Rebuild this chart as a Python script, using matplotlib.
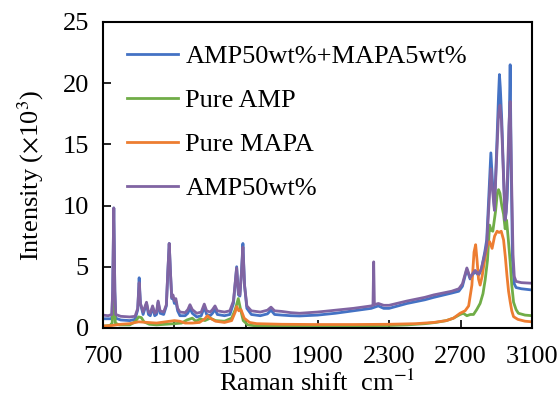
import matplotlib
matplotlib.use("Agg")
import matplotlib.pyplot as plt

plt.rcParams['font.family'] = ['Liberation Serif', 'DejaVu Serif']
plt.rcParams['mathtext.fontset'] = 'stix'

# AMP50wt%+MAPA5wt%
blue_x = [700, 750, 755, 761, 767, 772, 800, 850, 880, 895, 903, 910, 925, 944, 955, 965, 978, 990,
          1000, 1009, 1020, 1040, 1055, 1063, 1071, 1078, 1085, 1092, 1100, 1108, 1118, 1131, 1160,
          1175, 1187, 1200, 1225, 1250, 1267, 1280, 1300, 1313, 1327, 1340, 1380, 1410, 1430, 1448,
          1458, 1466, 1475, 1483, 1492, 1505, 1530, 1580, 1620, 1640, 1660, 1700, 1750, 1800, 1900,
          2000, 2100, 2200, 2240, 2270, 2300, 2400, 2500, 2550, 2650, 2690, 2710, 2735, 2753, 2770,
          2781, 2800, 2815, 2835, 2846, 2860, 2869, 2880, 2889, 2900, 2912, 2917, 2922, 2930, 2940,
          2950, 2960, 2970, 2977, 2983, 2990, 3000, 3010, 3040, 3100]
blue_y = [0.75, 0.75, 3.0, 9.8, 3.0, 0.8, 0.65, 0.6, 0.7, 1.5, 4.1, 2.0, 1.1, 2.0, 1.1, 1.0, 1.7, 1.0,
          1.1, 2.1, 1.2, 1.1, 1.8, 4.5, 6.9, 4.5, 2.4, 2.5, 2.0, 2.2, 1.4, 1.0, 1.0,
          1.2, 1.6, 1.2, 0.9, 1.0, 1.7, 1.1, 1.0, 1.2, 1.5, 1.1, 1.0, 1.1, 2.0, 5.0,
          2.7, 2.6, 4.6, 6.9, 3.5, 1.6, 1.1, 1.0, 1.15, 1.45, 1.1, 1.05, 1.0, 0.98, 1.05,
          1.2, 1.4, 1.6, 1.8, 1.6, 1.6, 2.0, 2.3, 2.5, 2.85, 3.0, 3.4, 4.8, 4.0, 4.4,
          4.6, 4.3, 4.7, 6.2, 7.2, 11.5, 14.3, 11.5, 9.8, 14.0, 19.0, 20.7, 19.6, 17.0, 12.5,
          8.8, 10.5, 15.0, 21.5, 13.0, 5.5, 3.6, 3.3, 3.2, 3.1]

# Pure AMP
green_x = [700, 740, 752, 758, 761, 764, 770, 790, 850, 880, 900, 915, 930, 960, 1000, 1050, 1100,
           1140, 1170, 1200, 1220, 1245, 1270, 1300, 1330, 1380, 1420, 1440, 1457, 1470, 1485, 1510,
           1550, 1700, 1900, 2100, 2300, 2400, 2500, 2560, 2620, 2660, 2697, 2715, 2735, 2755, 2772,
           2790, 2809, 2825, 2837, 2850, 2862, 2870, 2880, 2895, 2905, 2912, 2920, 2930, 2940, 2949,
           2957, 2965, 2977, 2986, 2996, 3010, 3023, 3060, 3100]
green_y = [0.15, 0.2, 0.4, 2.0, 3.6, 2.0, 0.4, 0.25, 0.25, 0.5, 0.9, 0.85, 0.5, 0.3, 0.25, 0.3, 0.35,
           0.4, 0.65, 0.8, 0.55, 0.75, 0.6, 0.8, 0.6, 0.55, 0.8, 1.5, 2.4, 1.5, 0.6, 0.25,
           0.18, 0.15, 0.15, 0.18, 0.2, 0.25, 0.35, 0.45, 0.6, 0.8, 1.1, 1.2, 1.0, 1.1, 1.1,
           1.5, 2.0, 2.8, 3.9, 5.5, 8.4, 8.0, 7.9, 9.5, 11.0, 11.3, 11.0, 10.0, 9.3, 8.1,
           8.8, 7.5, 5.4, 3.5, 2.1, 1.5, 1.2, 1.05, 1.0]

# Pure MAPA
orange_x = [700, 750, 800, 850, 900, 950, 1000, 1050, 1100, 1130, 1160, 1200, 1240, 1270, 1285, 1300,
            1330, 1380, 1420, 1440, 1448, 1460, 1472, 1490, 1520, 1560, 1700, 1900, 2100, 2300, 2450,
            2550, 2620, 2660, 2697, 2725, 2745, 2763, 2775, 2784, 2792, 2800, 2809, 2820, 2837, 2850,
            2862, 2876, 2890, 2904, 2915, 2927, 2940, 2950, 2959, 2968, 2977, 2986, 2996, 3020, 3060,
            3100]
orange_y = [0.15, 0.2, 0.3, 0.35, 0.5, 0.45, 0.4, 0.5, 0.6, 0.55, 0.4, 0.4, 0.45, 0.75, 1.0, 0.8,
            0.55, 0.45, 0.6, 1.3, 1.75, 1.4, 1.5, 0.8, 0.45, 0.35, 0.3, 0.28, 0.28, 0.3, 0.35,
            0.45, 0.6, 0.8, 1.2, 1.4, 1.8, 3.5, 6.2, 6.8, 5.5, 4.0, 3.5, 4.2, 5.8, 6.8,
            7.05, 6.5, 7.5, 7.9, 7.8, 7.9, 7.2, 5.8, 4.3, 3.0, 2.15, 1.4, 0.92, 0.7, 0.55,
            0.5]

# AMP50wt%
purple_x = [700, 730, 750, 755, 761, 767, 772, 800, 850, 880, 895, 903, 910, 925, 944, 955, 965, 978,
            990, 1000, 1009, 1020, 1040, 1055, 1063, 1071, 1078, 1085, 1092, 1100, 1108, 1118, 1131,
            1160, 1175, 1187, 1200, 1225, 1250, 1267, 1280, 1300, 1313, 1327, 1340, 1380, 1410, 1430,
            1448, 1458, 1466, 1475, 1483, 1492, 1505, 1530, 1580, 1620, 1640, 1660, 1700, 1750, 1800,
            1900, 2000, 2100, 2200, 2210, 2214, 2218, 2240, 2270, 2300, 2400, 2500, 2550, 2650, 2690,
            2710, 2735, 2753, 2770, 2781, 2800, 2815, 2835, 2846, 2860, 2869, 2880, 2889, 2900, 2912,
            2920, 2928, 2937, 2948, 2955, 2963, 2970, 2977, 2985, 2993, 3000, 3010, 3040, 3100]
purple_y = [1.05, 1.0, 1.1, 3.0, 9.8, 3.0, 1.1, 0.95, 0.9, 0.95, 1.6, 3.7, 2.0, 1.3, 2.1, 1.3, 1.2, 1.8,
            1.2, 1.3, 2.2, 1.4, 1.3, 1.9, 4.5, 6.9, 4.5, 2.5, 2.7, 2.2, 2.4, 1.6, 1.3,
            1.25, 1.5, 1.9, 1.5, 1.2, 1.3, 1.95, 1.4, 1.3, 1.5, 1.8, 1.4, 1.3, 1.4, 2.2,
            4.9, 2.8, 2.7, 4.5, 6.6, 3.5, 1.8, 1.4, 1.3, 1.45, 1.7, 1.4, 1.35, 1.25, 1.2,
            1.3, 1.45, 1.6, 1.8, 1.85, 5.4, 1.9, 2.0, 1.85, 1.85, 2.2, 2.5, 2.7, 3.0, 3.2,
            3.6, 4.9, 4.1, 4.5, 4.7, 4.4, 4.8, 6.0, 6.8, 10.5, 13.0, 11.0, 9.6, 13.5, 17.5,
            18.2, 17.0, 13.5, 8.8, 9.5, 13.0, 16.5, 18.5, 12.0, 6.0, 4.2, 3.8, 3.7, 3.65]

labels = ['AMP50wt%+MAPA5wt%', 'Pure AMP', 'Pure MAPA', 'AMP50wt%']
colors = ['#4472C4', '#70AD47', '#ED7D31', '#8064A2']
x_ticks = [700, 1100, 1500, 1900, 2300, 2700, 3100]
y_ticks = [0, 5, 10, 15, 20, 25]

fig = plt.figure(figsize=(5.59, 3.98), dpi=100)
ax = fig.add_axes([0.184, 0.176, 0.768, 0.769])

series = [(blue_x, blue_y), (green_x, green_y), (orange_x, orange_y), (purple_x, purple_y)]
for (xs, ys), lab, col in zip(series, labels, colors):
    ax.plot(xs, ys, color=col, lw=2.0, label=lab)

ax.set_xlim(700, 3100)
ax.set_ylim(0, 25)
ax.set_xticks(x_ticks)
ax.set_yticks(y_ticks)
ax.tick_params(direction='in', length=6, width=1.2, labelsize=19,
               top=False, right=False)
ax.tick_params(axis='x', pad=13)
ax.tick_params(axis='y', pad=10)
for sp in ax.spines.values():
    sp.set_linewidth(1.5)

ax.set_xlabel('Raman shift  cm$^{-1}$', fontsize=19, labelpad=1)
ax.set_ylabel('Intensity ($\\times$10$^{3}$)', fontsize=19, labelpad=12)

ax.legend(loc='upper left', frameon=False, fontsize=19, handlelength=1.9,
          handletextpad=0.3, labelspacing=0.78, borderaxespad=0.45,
          bbox_to_anchor=(0.005, 1.0))

fig.savefig('out.png', dpi=100)
